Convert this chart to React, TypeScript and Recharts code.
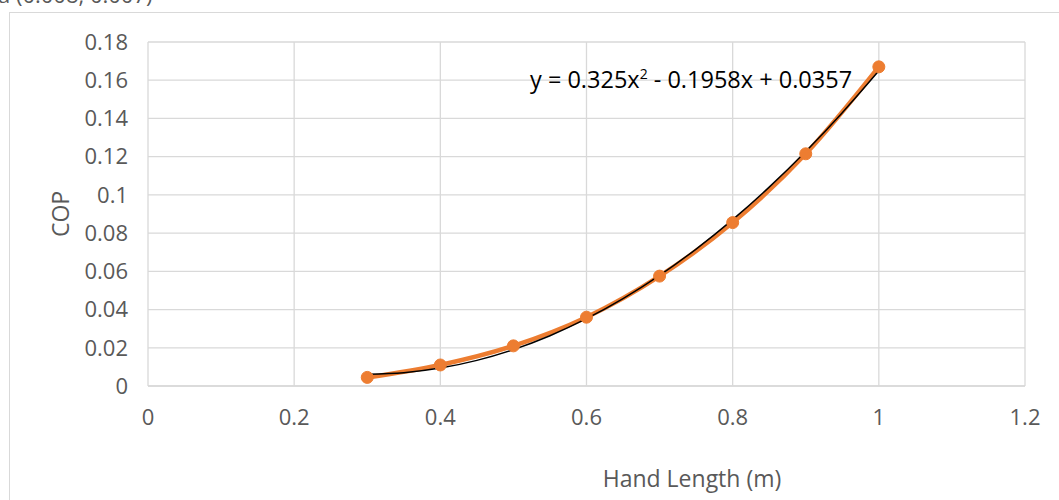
import { CartesianGrid, ComposedChart, Customized, Line, XAxis, YAxis } from "recharts"

// hand length (m) and measured COP
const handLength = [0.3, 0.4, 0.5, 0.6, 0.7, 0.8, 0.9, 1.0]
const cop = [0.0045, 0.011, 0.021, 0.036, 0.0575, 0.0855, 0.1215, 0.167]

// polynomial trendline shown on the chart: y = 0.325x^2 - 0.1958x + 0.0357
const trendCoef = [0.325, -0.1958, 0.0357]
const trendX = [0.3, 0.35, 0.4, 0.45, 0.5, 0.55, 0.6, 0.65, 0.7, 0.75, 0.8, 0.85, 0.9, 0.95, 1.0]

const xTicks = [0, 0.2, 0.4, 0.6, 0.8, 1, 1.2]
const yTicks = [0, 0.02, 0.04, 0.06, 0.08, 0.1, 0.12, 0.14, 0.16, 0.18]

const FONT = "'Open Sans', 'Noto Sans', sans-serif"
const ORANGE = "#ED7D31"
const GRID = "#d9d9d9"
const TEXT = "#595959"

const copData = handLength.map((x, i) => ({ x, cop: cop[i] }))
const trendData = trendX.map((x) => ({
  x,
  trend: trendCoef[0] * x * x + trendCoef[1] * x + trendCoef[2],
}))

function Decorations() {
  return (
    <g fontFamily={FONT}>
      <rect x={9.5} y={12.5} width={1200} height={600} fill="none" stroke={GRID} strokeWidth={1} />
      {/* clipped title of the previous chart, only its bottom edge shows */}
      <text x={-2} y={3} fontSize={22} fill={TEXT}>a (0.008, 0.007)</text>
      <text x={530} y={88} fontSize={23.5} fill="#000">
        y = 0.325x<tspan dy={-9} fontSize={14}>2</tspan>
        <tspan dy={9}> - 0.1958x + 0.0357</tspan>
      </text>
      <text x={692} y={487} fontSize={23} fill={TEXT} textAnchor="middle">Hand Length (m)</text>
      <text
        x={69}
        y={214}
        fontSize={23}
        fill={TEXT}
        textAnchor="middle"
        transform="rotate(-90 69 214)"
      >
        COP
      </text>
    </g>
  )
}

export default function App() {
  return (
    <div style={{ position: "absolute", left: 0, top: 0, background: "#fff" }}>
      <ComposedChart width={1059} height={500} margin={{ top: 42, right: 34, bottom: 0, left: 0 }}>
        <CartesianGrid stroke={GRID} strokeWidth={1.3} horizontalValues={yTicks} verticalValues={xTicks} />
        <XAxis
          type="number"
          dataKey="x"
          domain={[0, 1.2]}
          ticks={xTicks}
          height={114}
          axisLine={{ stroke: GRID, strokeWidth: 1.3 }}
          tickLine={false}
          tickSize={0}
          tickMargin={23}
          tick={{ fontSize: 22, fill: TEXT, fontFamily: FONT }}
          allowDataOverflow
        />
        <YAxis
          type="number"
          domain={[0, 0.18]}
          ticks={yTicks}
          width={148}
          axisLine={false}
          tickLine={false}
          tickSize={0}
          tickMargin={20}
          tick={{ fontSize: 22, fill: TEXT, fontFamily: FONT }}
          allowDataOverflow
        />
        <Line
          data={copData}
          dataKey="cop"
          type="monotone"
          stroke={ORANGE}
          strokeWidth={4.5}
          dot={{ r: 6, fill: ORANGE, stroke: ORANGE, strokeWidth: 1 }}
          activeDot={false}
          isAnimationActive={false}
        />
        <Line
          data={trendData}
          dataKey="trend"
          type="monotone"
          stroke="#000"
          strokeWidth={1.5}
          dot={false}
          activeDot={false}
          isAnimationActive={false}
        />
        <Customized component={Decorations} />
      </ComposedChart>
    </div>
  )
}
